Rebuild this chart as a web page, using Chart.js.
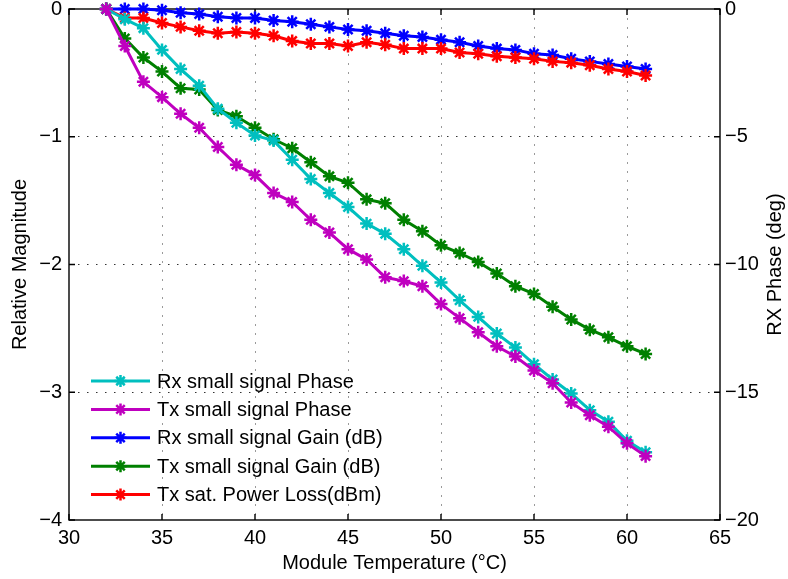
<!DOCTYPE html>
<html>
<head>
<meta charset="utf-8">
<script src="https://cdn.jsdelivr.net/npm/chart.js@4.4.0/dist/chart.umd.min.js"></script>
<style>
  html, body { margin: 0; padding: 0; background: #fff; }
  #wrap { width: 788px; height: 579px; }
</style>
</head>
<body>
<div id="wrap"><canvas id="tempChart" width="788" height="579"></canvas></div>
<script>
var temps = [32, 33, 34, 35, 36, 37, 38, 39, 40, 41, 42, 43, 44, 45, 46,
             47, 48, 49, 50, 51, 52, 53, 54, 55, 56, 57, 58, 59, 60, 61];

var rxPhase = [0, -0.08, -0.15, -0.32, -0.47, -0.60, -0.78, -0.89, -0.99, -1.03,
               -1.18, -1.33, -1.44, -1.55, -1.68, -1.76, -1.88, -2.01, -2.14, -2.28,
               -2.41, -2.54, -2.65, -2.78, -2.90, -3.01, -3.14, -3.23, -3.38, -3.47];
var txPhase = [0, -0.29, -0.57, -0.69, -0.82, -0.93, -1.08, -1.22, -1.30, -1.44,
               -1.51, -1.65, -1.75, -1.88, -1.96, -2.10, -2.13, -2.17, -2.31, -2.42,
               -2.53, -2.64, -2.72, -2.83, -2.93, -3.08, -3.18, -3.27, -3.40, -3.50];
var rxGain = [0, 0, 0, -0.01, -0.03, -0.04, -0.06, -0.07, -0.07, -0.09,
              -0.10, -0.12, -0.14, -0.16, -0.17, -0.19, -0.21, -0.22, -0.24, -0.26,
              -0.29, -0.31, -0.32, -0.35, -0.36, -0.39, -0.41, -0.43, -0.45, -0.47];
var txGain = [0, -0.23, -0.38, -0.49, -0.62, -0.63, -0.79, -0.84, -0.93, -1.02,
              -1.09, -1.20, -1.31, -1.36, -1.49, -1.52, -1.65, -1.74, -1.85, -1.91,
              -1.98, -2.07, -2.17, -2.23, -2.33, -2.43, -2.51, -2.57, -2.64, -2.70];
var txSatLoss = [0, -0.07, -0.07, -0.11, -0.14, -0.17, -0.19, -0.18, -0.19, -0.21,
                 -0.25, -0.27, -0.27, -0.29, -0.26, -0.28, -0.31, -0.31, -0.31, -0.34,
                 -0.35, -0.37, -0.38, -0.39, -0.41, -0.42, -0.44, -0.47, -0.49, -0.52];

var seriesNames = ['Rx small signal Phase', 'Tx small signal Phase', 'Rx small signal Gain (dB)',
                   'Tx small signal Gain (dB)', 'Tx sat. Power Loss(dBm)'];
var seriesColors = ['#00BFBF', '#BF00BF', '#0000FF', '#008000', '#FF0000'];
var drawOrder = [1, 0, 4, 2, 3];   // lower = drawn on top

var rightTitle = 'RX Phase (deg)';
var fontFamily = '"Liberation Sans", Arial, Helvetica, sans-serif';
var fontSize = 20;

function pairs(ys) {
  return temps.map(function(t, i) { return { x: t, y: ys[i] }; });
}

function minusLabel(v) {
  return v < 0 ? '\u2212' + Math.abs(v) : String(v);
}

function drawStar(ctx, x, y, r) {
  ctx.beginPath();
  for (var k = 0; k < 4; k++) {
    var a = k * Math.PI / 4;
    ctx.moveTo(x - r * Math.cos(a), y - r * Math.sin(a));
    ctx.lineTo(x + r * Math.cos(a), y + r * Math.sin(a));
  }
  ctx.stroke();
}

// box round the axes plus inward tick marks, MATLAB style
var frameTicks = {
  id: 'frameTicks',
  beforeDatasetsDraw: function(chart) {
    var ctx = chart.ctx, a = chart.chartArea;
    var sx = chart.scales.x, sy = chart.scales.y, sy2 = chart.scales.y2;
    var len = 6;
    ctx.save();
    ctx.strokeStyle = '#000';
    ctx.lineWidth = 1.4;
    ctx.beginPath();
    sx.ticks.forEach(function(t) {
      var px = sx.getPixelForValue(t.value);
      ctx.moveTo(px, a.bottom); ctx.lineTo(px, a.bottom - len);
      ctx.moveTo(px, a.top); ctx.lineTo(px, a.top + len);
    });
    sy.ticks.forEach(function(t) {
      var py = sy.getPixelForValue(t.value);
      ctx.moveTo(a.left, py); ctx.lineTo(a.left + len, py);
    });
    sy2.ticks.forEach(function(t) {
      var py = sy2.getPixelForValue(t.value);
      ctx.moveTo(a.right, py); ctx.lineTo(a.right - len, py);
    });
    ctx.stroke();
    ctx.strokeRect(a.left, a.top, a.right - a.left, a.bottom - a.top);

    // right axis title reads bottom to top, like the left one
    ctx.fillStyle = '#000';
    ctx.font = fontSize + 'px ' + fontFamily;
    ctx.textAlign = 'center';
    ctx.textBaseline = 'middle';
    ctx.translate(775, (a.top + a.bottom) / 2);
    ctx.rotate(-Math.PI / 2);
    ctx.fillText(rightTitle, 0, 0);
    ctx.restore();
  }
};

// legend sits inside the axes, bottom left, no box
var insideLegend = {
  id: 'insideLegend',
  afterDraw: function(chart) {
    var ctx = chart.ctx;
    var x0 = 91, x1 = 150, y0 = 381, step = 28.4;
    ctx.save();
    ctx.font = fontSize + 'px ' + fontFamily;
    ctx.textBaseline = 'middle';
    ctx.textAlign = 'left';
    chart.data.datasets.forEach(function(ds, i) {
      var y = y0 + i * step;
      ctx.strokeStyle = ds.borderColor;
      ctx.lineWidth = 3;
      ctx.beginPath(); ctx.moveTo(x0, y); ctx.lineTo(x1, y); ctx.stroke();
      ctx.lineWidth = 2.5;
      drawStar(ctx, (x0 + x1) / 2, y, 6);
      ctx.fillStyle = '#000';
      ctx.fillText(ds.label, 157, y + 1);
    });
    ctx.restore();
  }
};

var datasets = [rxPhase, txPhase, rxGain, txGain, txSatLoss].map(function(ys, i) {
  return {
    label: seriesNames[i],
    data: pairs(ys),
    borderColor: seriesColors[i],
    backgroundColor: seriesColors[i],
    borderWidth: 3,
    pointStyle: 'star',
    pointRadius: 6.5,
    pointBorderWidth: 2.5,
    pointHoverRadius: 6.5,
    tension: 0,
    clip: false,
    order: drawOrder[i],
    yAxisID: 'y'
  };
});

var tickFont = { family: fontFamily, size: fontSize };

function noVertPad(s) { s.paddingTop = 0; s.paddingBottom = 0; }

var ctxTemp = document.getElementById('tempChart').getContext('2d');
var tempChart = new Chart(ctxTemp, {
  type: 'line',
  data: { datasets: datasets },
  options: {
    responsive: false,
    animation: false,
    layout: { padding: { top: 7, left: 0, right: 0, bottom: 0 } },
    plugins: { legend: { display: false }, tooltip: { enabled: false } },
    scales: {
      x: {
        type: 'linear', min: 30, max: 65,
        ticks: { stepSize: 5, color: '#000', font: tickFont, padding: 6, maxRotation: 0 },
        grid: {
          drawTicks: false, lineWidth: 1,
          color: function(c) { return (c.tick && (c.tick.value === 30 || c.tick.value === 65)) ? 'rgba(0,0,0,0)' : '#9a9a9a'; }
        },
        border: { display: false, dash: [2, 7] },
        title: { display: true, text: 'Module Temperature (\u00B0C)', color: '#000', font: tickFont, padding: { top: 0, bottom: 4 } },
        afterFit: function(s) { s.height = 59; s.paddingLeft = 0; s.paddingRight = 0; }
      },
      y: {
        type: 'linear', position: 'left', min: -4, max: 0,
        ticks: { stepSize: 1, color: '#000', font: tickFont, padding: 7, callback: minusLabel },
        grid: {
          drawTicks: false, lineWidth: 1,
          color: function(c) { return (c.tick && (c.tick.value === 0 || c.tick.value === -4)) ? 'rgba(0,0,0,0)' : '#333'; }
        },
        border: { display: false, dash: [1.5, 7.5] },
        title: { display: true, text: 'Relative Magnitude', color: '#000', font: tickFont, padding: { top: 8, bottom: 0 } },
        afterFit: function(s) { s.width = 69; noVertPad(s); }
      },
      y2: {
        type: 'linear', position: 'right', min: -20, max: 0,
        ticks: { stepSize: 5, color: '#000', font: tickFont, padding: 5, callback: minusLabel },
        grid: { drawOnChartArea: false, drawTicks: false },
        border: { display: false },
        title: { display: false },
        afterFit: function(s) { s.width = 68; noVertPad(s); }
      }
    }
  },
  plugins: [frameTicks, insideLegend]
});
</script>
</body>
</html>
